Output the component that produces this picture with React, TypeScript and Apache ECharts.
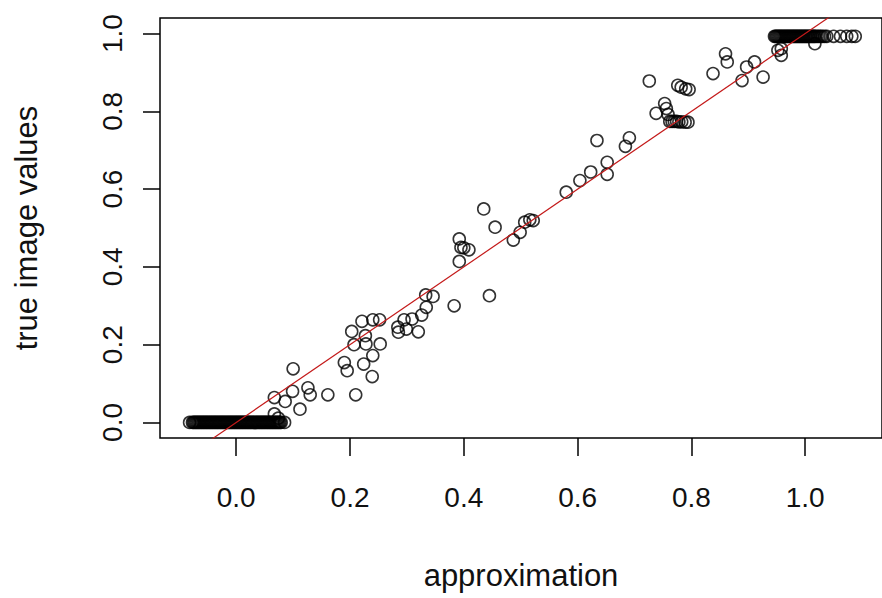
import React, { useEffect, useRef } from "react";
import * as echarts from "echarts";

// x-values of points lying on y = 0 (dense band)
const zeroRowX = [
  -0.082, -0.077, -0.075, -0.073, -0.071, -0.069, -0.067, -0.065, -0.063, -0.061, -0.059,
  -0.057, -0.055, -0.053, -0.051, -0.049, -0.047, -0.045, -0.043, -0.041, -0.039, -0.037,
  -0.035, -0.033, -0.031, -0.029, -0.027, -0.025, -0.023, -0.021, -0.019, -0.017, -0.015,
  -0.013, -0.011, -0.009, -0.007, -0.005, -0.003, -0.001, 0.001, 0.003, 0.005, 0.007, 0.009,
  0.011, 0.013, 0.015, 0.017, 0.019, 0.021, 0.023, 0.025, 0.027, 0.029, 0.031, 0.033, 0.035,
  0.037, 0.039, 0.041, 0.043, 0.045, 0.047, 0.049, 0.051, 0.053, 0.055, 0.057, 0.059, 0.061,
  0.063, 0.065, 0.067, 0.069, 0.071, 0.073, 0.075, 0.077, 0.079, 0.085,
];
const zeroRowY = 0;

// x-values of points lying on the top row (true value ~1)
const oneRowX = [
  0.946, 0.948, 0.95, 0.952, 0.954, 0.956, 0.958, 0.96, 0.962, 0.964, 0.966, 0.968, 0.97,
  0.972, 0.974, 0.976, 0.978, 0.98, 0.982, 0.984, 0.986, 0.988, 0.99, 0.992, 0.994, 0.996,
  0.998, 1.0, 1.002, 1.004, 1.006, 1.008, 1.01, 1.012, 1.014, 1.016, 1.018, 1.021, 1.024,
  1.027, 1.03, 1.034, 1.038, 1.05, 1.062, 1.073, 1.082, 1.088,
];
const oneRowY = 0.993;

// remaining points
const scatterX = [
  0.067, 0.074, 0.067, 0.086, 0.1, 0.099, 0.112, 0.126, 0.13, 0.161, 0.19, 0.195, 0.21, 0.203,
  0.207, 0.221, 0.227, 0.228, 0.224, 0.24, 0.239, 0.24, 0.252, 0.253, 0.284, 0.285, 0.299, 0.295,
  0.309, 0.32, 0.326, 0.334, 0.333, 0.346, 0.383, 0.435, 0.455, 0.392, 0.395, 0.4, 0.409, 0.392,
  0.445, 0.487, 0.499, 0.507, 0.516, 0.522, 0.58, 0.604, 0.623, 0.652, 0.652, 0.634, 0.684,
  0.691, 0.726, 0.738, 0.753, 0.756, 0.759, 0.762, 0.766, 0.77, 0.774, 0.778, 0.783, 0.789,
  0.794, 0.776, 0.782, 0.79, 0.796, 0.838, 0.86, 0.863, 0.897, 0.889, 0.926, 0.911, 0.952,
  0.958, 0.958, 1.017,
];
const scatterY = [
  0.022, 0.011, 0.064, 0.054, 0.138, 0.08, 0.034, 0.089, 0.071, 0.071, 0.154, 0.133, 0.071, 0.234,
  0.2, 0.26, 0.223, 0.202, 0.15, 0.172, 0.118, 0.264, 0.264, 0.202, 0.245, 0.232, 0.24, 0.264,
  0.266, 0.233, 0.276, 0.296, 0.328, 0.324, 0.3, 0.549, 0.502, 0.472, 0.45, 0.449, 0.444, 0.414,
  0.326, 0.469, 0.489, 0.515, 0.521, 0.519, 0.592, 0.622, 0.644, 0.638, 0.669, 0.725, 0.71,
  0.732, 0.878, 0.795, 0.82, 0.807, 0.792, 0.774, 0.774, 0.774, 0.774, 0.773, 0.773, 0.772,
  0.772, 0.867, 0.862, 0.858, 0.856, 0.897, 0.948, 0.927, 0.914, 0.879, 0.888, 0.927, 0.957,
  0.944, 0.961, 0.974,
];

// identity reference line (abline(0, 1))
const refLineX = [-0.3, 1.3];

const xTicks = [0, 0.2, 0.4, 0.6, 0.8, 1.0];
const yTicks = [0, 0.2, 0.4, 0.6, 0.8, 1.0];

const FONT = "'Liberation Sans', Arial, sans-serif";

export default function App() {
  const ref = useRef<HTMLDivElement>(null);

  useEffect(() => {
    if (!ref.current) return;
    const chart = echarts.init(ref.current, null, { renderer: "svg" });

    const points: number[][] = [];
    zeroRowX.forEach((x) => points.push([x, zeroRowY]));
    scatterX.forEach((x, i) => points.push([x, scatterY[i]]));
    oneRowX.forEach((x) => points.push([x, oneRowY]));

    chart.setOption({
      animation: false,
      backgroundColor: "#ffffff",
      grid: {
        left: 160,
        top: 18,
        width: 732,
        height: 420,
        show: true,
        borderColor: "#000",
        borderWidth: 1.5,
        backgroundColor: "transparent",
      },
      xAxis: {
        type: "value",
        min: -0.134,
        max: 1.135,
        name: "approximation",
        nameLocation: "middle",
        nameGap: 122,
        nameTextStyle: { fontFamily: FONT, fontSize: 31, color: "#111" },
        axisLine: { show: false, onZero: false },
        splitLine: { show: false },
        axisTick: {
          show: true,
          inside: false,
          length: 18,
          customValues: xTicks,
          lineStyle: { color: "#000", width: 1.5 },
        },
        axisLabel: {
          customValues: xTicks,
          margin: 45,
          fontFamily: FONT,
          fontSize: 28,
          color: "#111",
          formatter: (v: number) => v.toFixed(1),
        },
      },
      yAxis: {
        type: "value",
        min: -0.04,
        max: 1.04,
        name: "true image values",
        nameLocation: "middle",
        nameGap: 118,
        nameRotate: 90,
        nameTextStyle: { fontFamily: FONT, fontSize: 31, color: "#111" },
        axisLine: { show: false, onZero: false },
        splitLine: { show: false },
        axisTick: {
          show: true,
          inside: false,
          length: 17,
          customValues: yTicks,
          lineStyle: { color: "#000", width: 1.5 },
        },
        axisLabel: {
          customValues: yTicks,
          rotate: 90,
          margin: 34,
          fontFamily: FONT,
          fontSize: 28,
          color: "#111",
          formatter: (v: number) => v.toFixed(1),
        },
      },
      series: [
        {
          type: "scatter",
          data: points,
          symbol: "circle",
          symbolSize: 12,
          itemStyle: {
            color: "rgba(0,0,0,0)",
            borderColor: "#000",
            borderWidth: 1.6,
          },
          z: 2,
        },
        {
          type: "line",
          data: refLineX.map((x) => [x, x]),
          symbol: "none",
          clip: true,
          lineStyle: { color: "#c41a1a", width: 1.2 },
          z: 3,
        },
      ],
    });

    return () => chart.dispose();
  }, []);

  return (
    <div
      ref={ref}
      style={{ position: "fixed", left: 0, top: 0, width: 882, height: 598, background: "#fff" }}
    />
  );
}
